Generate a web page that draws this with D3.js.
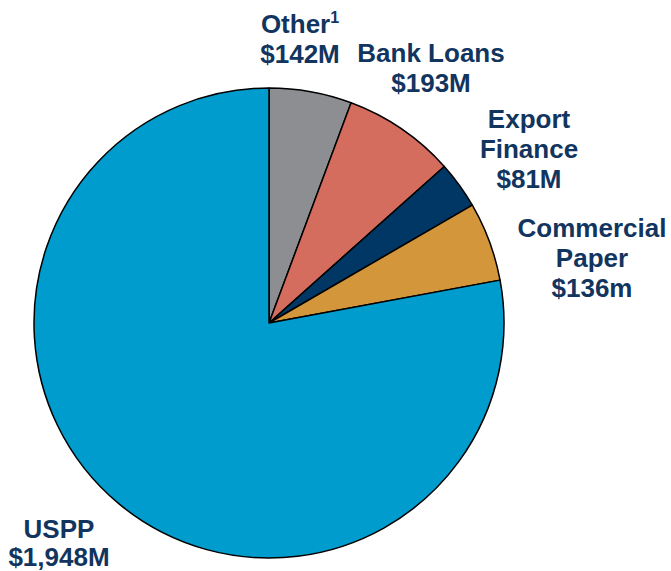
<!DOCTYPE html>
<html><head><meta charset="utf-8">
<script src="https://cdn.jsdelivr.net/npm/d3@7"></script>
<style>html,body{margin:0;padding:0;background:#fff;}</style>
</head><body>
<svg id="chart" width="671" height="571"></svg>
<script>
const categories = ["Other", "Bank Loans", "Export Finance", "Commercial Paper", "USPP"];
const values = [142, 193, 81, 136, 1948];
const valueLabels = ["$142M", "$193M", "$81M", "$136m", "$1,948M"];
const colors = ["#8c8e92", "#d46d5d", "#003764", "#d4963a", "#009ccd"];

const svg = d3.select("#chart");
const cx = 269, cy = 323, r = 235;
const pie = d3.pie().sort(null).value(d => d.v);
const data = categories.map((c, i) => ({c, v: values[i], color: colors[i]}));
const arcs = pie(data);
const arc = d3.arc().innerRadius(0).outerRadius(r);
const g = svg.append("g").attr("transform", `translate(${cx},${cy})`);
g.selectAll("path").data(arcs).enter().append("path")
  .attr("d", arc).attr("fill", d => d.data.color)
  .attr("stroke", "#000").attr("stroke-width", 1.5).attr("stroke-linejoin", "round");

const labelLines = [
  [["Other", true], [valueLabels[0]]],
  [["Bank Loans"], [valueLabels[1]]],
  [["Export"], ["Finance"], [valueLabels[2]]],
  [["Commercial"], ["Paper"], [valueLabels[3]]],
  [["USPP"], [valueLabels[4]]]
];
const labelPos = [
  {x: 300, y: 33, lh: 30},
  {x: 431, y: 62, lh: 30},
  {x: 529, y: 128, lh: 30},
  {x: 592, y: 237, lh: 30},
  {x: 59, y: 538, lh: 28}
];
const tg = svg.append("g")
  .attr("font-family", "'Liberation Sans', Arial, sans-serif")
  .attr("font-weight", "bold").attr("font-size", 26).attr("fill", "#12355f")
  .attr("text-anchor", "middle");
labelLines.forEach((lines, i) => {
  const p = labelPos[i];
  lines.forEach((ln, j) => {
    const t = tg.append("text").attr("x", p.x).attr("y", p.y + j * p.lh);
    t.append("tspan").text(ln[0]);
    if (ln[1]) t.append("tspan").attr("font-size", 16).attr("dy", -10).text("1");
  });
});
</script>
</body></html>
